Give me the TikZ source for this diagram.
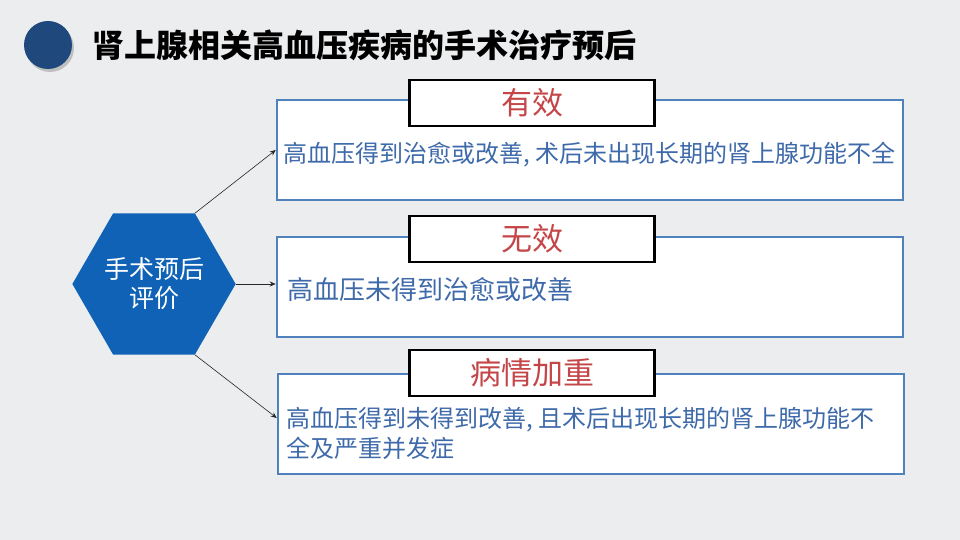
\documentclass[tikz,border=0pt]{standalone}
\usepackage{fontspec}
\newfontfamily\cjk{Noto Sans CJK SC}
\usetikzlibrary{shapes.geometric,arrows.meta}
\definecolor{navy}{RGB}{31,73,125}
\definecolor{hexblue}{RGB}{16,98,182}
\definecolor{boxblue}{RGB}{79,129,189}
\definecolor{textblue}{RGB}{62,106,170}
\definecolor{tagred}{RGB}{196,70,72}
\definecolor{bggray}{RGB}{236,237,239}
\begin{document}
\begin{tikzpicture}[x=1pt, y=-1pt, font=\cjk,
		resultbox/.style={draw=boxblue, line width=2.5pt, fill=white, minimum width=626pt, minimum height=100pt, inner sep=0pt},
		tagbox/.style={draw=black, line width=2.5pt, fill=white, minimum width=245pt, minimum height=46pt, inner sep=0pt, text=tagred, font=\cjk\fontsize{31}{34}\selectfont},
		resulttext/.style={anchor=west, inner sep=0pt, text=textblue, align=left, font=\cjk\fontsize{24}{30}\selectfont},
		link/.style={draw=black!85, line width=0.6pt, -{Stealth[length=6pt, width=5pt]}}]
			\useasboundingbox (0,0) rectangle (960,540);
			\fill[bggray] (0,0) rectangle (960,540);
			% title bar
			\fill[black!25] (50,48) circle (24);
			\node[circle, fill=navy, minimum size=48pt, inner sep=0pt] (dot) at (48,45) {};
			\node[anchor=west, inner sep=0pt, font=\cjk\bfseries\fontsize{32}{34}\selectfont] (title) at (92,45) {肾上腺相关高血压疾病的手术治疗预后};
			% hexagon
			\node[regular polygon, regular polygon sides=6, minimum size=162pt, inner sep=0pt, outer sep=0pt, fill=hexblue, text=white, align=center, font=\cjk\fontsize{25}{29}\selectfont] (hex) at (154,284) {手术预后\\评价};
			% result boxes
			\node[resultbox] (box1) at (590,150) {};
			\node[resultbox] (box2) at (590,287) {};
			\node[resultbox] (box3) at (591,424) {};
			\node[tagbox] (tag1) at (532,103) {有效};
			\node[tagbox] (tag2) at (532,239) {无效};
			\node[tagbox] (tag3) at (532,373) {病情加重};
			\node[resulttext] (txt1) at (283,155) {高血压得到治愈或改善, 术后未出现长期的肾上腺功能不全};
			\node[resulttext, font=\cjk\fontsize{26}{30}\selectfont] (txt2) at (287,290) {高血压未得到治愈或改善};
			\node[resulttext] (txt3) at (286,433) {高血压得到未得到改善, 且术后出现长期的肾上腺功能不\\全及严重并发症};
			% links
			\draw[link] (hex.60) -- (box1.west);
			\draw[link] (hex.0) -- (box2.west |- hex.0);
			\draw[link] (hex.-60) -- (box3.west |- 0,418);
		\end{tikzpicture}
\end{document}
